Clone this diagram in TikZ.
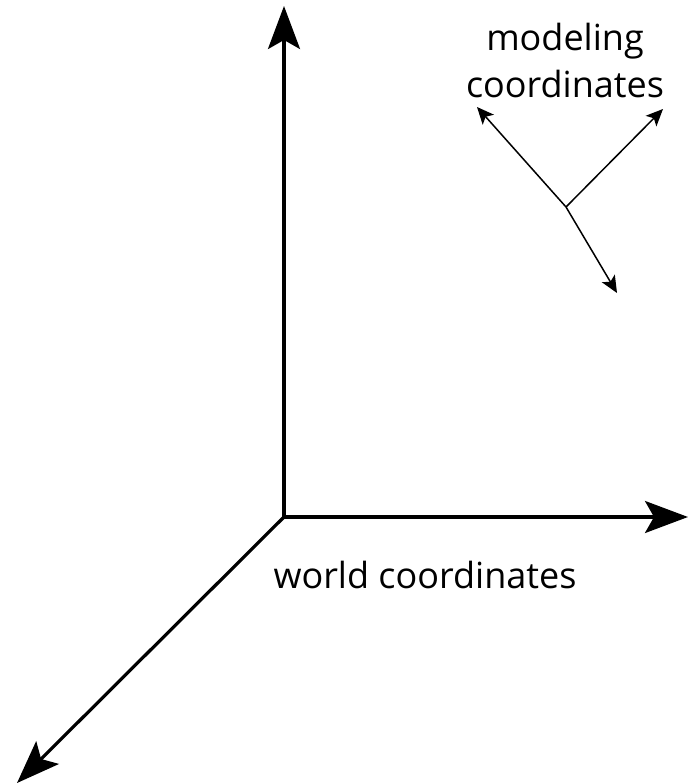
\documentclass[tikz,border=0pt]{standalone}
\usepackage{fontspec}
\setmainfont{Open Sans}
\usetikzlibrary{arrows.meta}
\begin{document}
\begin{tikzpicture}[x=1pt,y=-1pt,
  bigaxis/.style={line width=3.2pt,-{Stealth[length=43pt,width=32pt,inset=9pt]}},
  smallaxis/.style={line width=1.5pt,-{Stealth[length=17pt,width=15pt,inset=4pt]}},
  lbl/.style={font=\fontsize{36}{47}\selectfont,inner sep=0pt}]
\useasboundingbox (0,0) rectangle (688,783);
\coordinate (o) at (284,517);
\coordinate (ytip) at (284,6);
\coordinate (xtip) at (688,517);
\coordinate (ztip) at (17,783);
\draw[bigaxis] (o) -- (ytip);
\draw[bigaxis] (o) -- (xtip);
\draw[bigaxis] (o) -- (ztip);
\coordinate (m) at (566,207);
\coordinate (m1) at (477,107);
\coordinate (m2) at (663,109);
\coordinate (m3) at (617,293);
\draw[smallaxis] (m) -- (m1);
\draw[smallaxis] (m) -- (m2);
\draw[smallaxis] (m) -- (m3);
\node[lbl,anchor=base] (world) at (425,588) {world coordinates};
\node[lbl,anchor=base,align=center] (model) at (565,98) {modeling\\coordinates};
\end{tikzpicture}
\end{document}
